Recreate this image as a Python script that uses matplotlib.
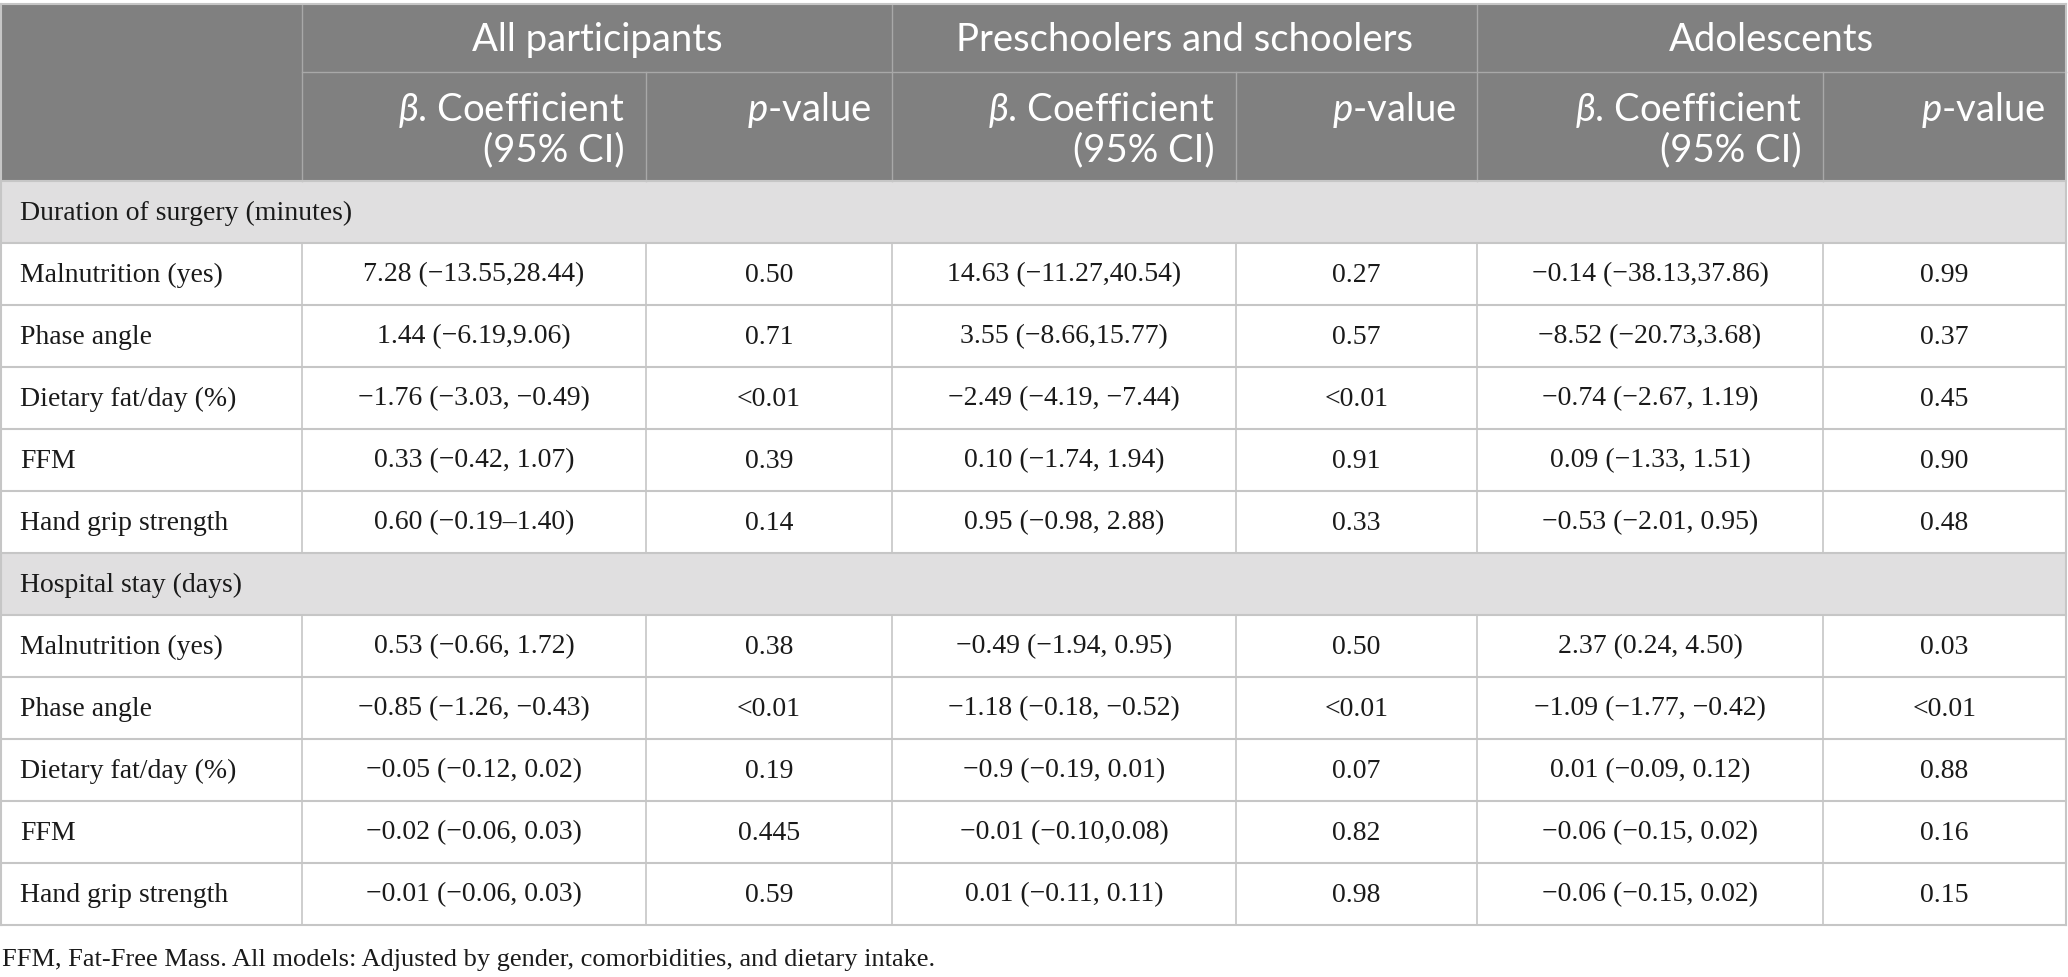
import matplotlib
matplotlib.use("Agg")
import matplotlib.pyplot as plt
from matplotlib.patches import Rectangle

# table content
groups = ["All participants", "Preschoolers and schoolers", "Adolescents"]
sections = ["Duration of surgery (minutes)", "Hospital stay (days)"]
variables = ["Malnutrition (yes)", "Phase angle", "Dietary fat/day (%)", "FFM", "Hand grip strength"]

surgery_beta = [
    ["7.28 (\u221213.55,28.44)", "14.63 (\u221211.27,40.54)", "\u22120.14 (\u221238.13,37.86)"],
    ["1.44 (\u22126.19,9.06)", "3.55 (\u22128.66,15.77)", "\u22128.52 (\u221220.73,3.68)"],
    ["\u22121.76 (\u22123.03, \u22120.49)", "\u22122.49 (\u22124.19, \u22127.44)", "\u22120.74 (\u22122.67, 1.19)"],
    ["0.33 (\u22120.42, 1.07)", "0.10 (\u22121.74, 1.94)", "0.09 (\u22121.33, 1.51)"],
    ["0.60 (\u22120.19\u20131.40)", "0.95 (\u22120.98, 2.88)", "\u22120.53 (\u22122.01, 0.95)"],
]
surgery_p = [
    ["0.50", "0.27", "0.99"],
    ["0.71", "0.57", "0.37"],
    ["<0.01", "<0.01", "0.45"],
    ["0.39", "0.91", "0.90"],
    ["0.14", "0.33", "0.48"],
]
stay_beta = [
    ["0.53 (\u22120.66, 1.72)", "\u22120.49 (\u22121.94, 0.95)", "2.37 (0.24, 4.50)"],
    ["\u22120.85 (\u22121.26, \u22120.43)", "\u22121.18 (\u22120.18, \u22120.52)", "\u22121.09 (\u22121.77, \u22120.42)"],
    ["\u22120.05 (\u22120.12, 0.02)", "\u22120.9 (\u22120.19, 0.01)", "0.01 (\u22120.09, 0.12)"],
    ["\u22120.02 (\u22120.06, 0.03)", "\u22120.01 (\u22120.10,0.08)", "\u22120.06 (\u22120.15, 0.02)"],
    ["\u22120.01 (\u22120.06, 0.03)", "0.01 (\u22120.11, 0.11)", "\u22120.06 (\u22120.15, 0.02)"],
]
stay_p = [
    ["0.38", "0.50", "0.03"],
    ["<0.01", "<0.01", "<0.01"],
    ["0.19", "0.07", "0.88"],
    ["0.445", "0.82", "0.16"],
    ["0.59", "0.98", "0.15"],
]
footnote = "FFM, Fat-Free Mass. All models: Adjusted by gender, comorbidities, and dietary intake."

# layout (pixels)
W, H = 2068, 978
col_x = [1, 302, 646, 892, 1236, 1477, 1823, 2066]
top, head_mid, head_bot = 5, 73, 182
row_h = 62

head_bg = "#808080"
sect_bg = "#e0dfe0"
grid_c = "#c6c6c6"
head_line = "#a8a8a8"

plt.rcParams["mathtext.fontset"] = "custom"
plt.rcParams["mathtext.rm"] = "Lato"
plt.rcParams["mathtext.it"] = "Lato:italic"

fig = plt.figure(figsize=(W / 100, H / 100), dpi=100)
ax = fig.add_axes([0, 0, 1, 1])
ax.set_xlim(0, W)
ax.set_ylim(H, 0)
ax.axis("off")

head_font = dict(family="Lato", fontsize=27.5, color="white")
body_font = dict(family="Liberation Serif", fontsize=20, color="#1a1a1a")

# header
ax.add_patch(Rectangle((col_x[0], top), col_x[-1] - col_x[0], head_bot - top, color=head_bg, lw=0))
ax.plot([col_x[1], col_x[-1]], [head_mid, head_mid], color=head_line, lw=1)
for i, x in enumerate(col_x[1:-1]):
    y0 = top if i % 2 == 0 else head_mid
    ax.plot([x, x], [y0, head_bot], color=head_line, lw=1)

for g, name in enumerate(groups):
    x0, x1 = col_x[1 + 2 * g], col_x[3 + 2 * g]
    ax.text((x0 + x1) / 2, (top + head_mid) / 2 + 1, name, ha="center", va="center", **head_font)
    xb = col_x[2 + 2 * g] - 21
    xp = col_x[3 + 2 * g] - 21
    ax.text(xb, 110, r"$\it{\beta}$. Coefficient", ha="right", va="center", **head_font)
    ax.text(xb, 150, "(95% CI)", ha="right", va="center", **head_font)
    ax.text(xp, 110, r"$\it{p}$-value", ha="right", va="center", **head_font)

# body
y = head_bot
for label, betas, ps in [(sections[0], surgery_beta, surgery_p), (sections[1], stay_beta, stay_p)]:
    ax.add_patch(Rectangle((col_x[0], y), col_x[-1] - col_x[0], row_h, color=sect_bg, lw=0))
    ax.text(20, y + row_h / 2, label, ha="left", va="center", **body_font)
    ax.plot([col_x[0], col_x[-1]], [y, y], color=grid_c, lw=1.5)
    y += row_h
    for r, var in enumerate(variables):
        ax.plot([col_x[0], col_x[-1]], [y, y], color=grid_c, lw=1.5)
        for x in col_x[1:-1]:
            ax.plot([x, x], [y, y + row_h], color=grid_c, lw=1.2)
        yc = y + row_h / 2
        ax.text(20, yc, var, ha="left", va="center", **body_font)
        for g in range(3):
            xa, xb_, xc = col_x[1 + 2 * g], col_x[2 + 2 * g], col_x[3 + 2 * g]
            ax.text((xa + xb_) / 2, yc, betas[r][g], ha="center", va="center", **body_font)
            ax.text((xb_ + xc) / 2, yc, ps[r][g], ha="center", va="center", **body_font)
        y += row_h
ax.plot([col_x[0], col_x[-1]], [y, y], color=grid_c, lw=1.5)

# outer border
ax.plot([col_x[0], col_x[0]], [top, y], color=grid_c, lw=1.5)
ax.plot([col_x[-1], col_x[-1]], [top, y], color=grid_c, lw=1.5)
ax.plot([col_x[0], col_x[-1]], [top, top], color=grid_c, lw=1.5)

ax.text(2, 960, footnote, ha="left", va="center", family="Liberation Serif", fontsize=19, color="#1a1a1a")

fig.savefig("out.png", dpi=100)
